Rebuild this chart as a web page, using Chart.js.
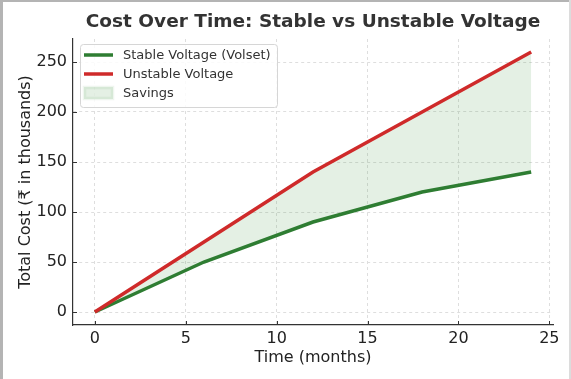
<!DOCTYPE html>
<html>
<head>
<meta charset="utf-8">
<script src="https://cdn.jsdelivr.net/npm/chart.js@4"></script>
<style>
  html, body { margin: 0; padding: 0; background: #fff; }
  #wrap { width: 571px; height: 379px; position: relative; }
</style>
</head>
<body>
<div id="wrap"><canvas id="costChart" width="571" height="379"></canvas></div>
<script>
// months and cumulative cost (thousands)
const months = [0, 6, 12, 18, 24];
const stable_cost = [0, 50, 90, 120, 140];
const unstable_cost = [0, 70, 140, 200, 260];
const x_ticks = [0, 5, 10, 15, 20, 25];
const y_ticks = [0, 50, 100, 150, 200, 250];

const GREEN = '#2e7d32';
const RED = '#cf2a2a';
const FILL = 'rgba(46, 139, 46, 0.13)';
const FONT = "'DejaVu Sans', sans-serif";

const toXY = (ys) => months.map((m, i) => ({x: m, y: ys[i]}));

// frame, title, inside ticks and legend box, matplotlib style
const decorations = {
  id: 'decorations',
  beforeDraw(chart) {
    const ctx = chart.ctx;
    ctx.save();
    ctx.fillStyle = '#fff';
    ctx.fillRect(0, 0, chart.width, chart.height);
    ctx.fillStyle = '#b4b4b4';
    ctx.fillRect(0, 0, 3, chart.height);
    ctx.fillRect(0, 0, chart.width, 2);
    ctx.fillStyle = '#dcdcdc';
    ctx.fillRect(chart.width - 2, 0, 2, chart.height);
    ctx.restore();
  },
  afterDraw(chart) {
    const ctx = chart.ctx;
    const area = chart.chartArea;
    const xs = chart.scales.x, ys = chart.scales.y;
    ctx.save();
    // title
    ctx.fillStyle = '#333';
    ctx.font = 'bold 18.5px ' + FONT;
    ctx.textAlign = 'center';
    ctx.textBaseline = 'middle';
    ctx.fillText('Cost Over Time: Stable vs Unstable Voltage', (area.left + area.right) / 2, 22);

    // inward ticks
    ctx.strokeStyle = '#333';
    ctx.lineWidth = 1;
    ctx.beginPath();
    x_ticks.forEach(v => {
      const px = Math.round(xs.getPixelForValue(v)) + 0.5;
      ctx.moveTo(px, area.bottom);
      ctx.lineTo(px, area.bottom - 4);
    });
    y_ticks.forEach(v => {
      const py = Math.round(ys.getPixelForValue(v)) + 0.5;
      ctx.moveTo(area.left, py);
      ctx.lineTo(area.left + 4, py);
    });
    ctx.stroke();

    // legend
    const lx = 80, ly = 44, lw = 197, lh = 63;
    ctx.fillStyle = 'rgba(255,255,255,0.85)';
    ctx.strokeStyle = '#d6d6d6';
    ctx.beginPath();
    ctx.roundRect(lx + 0.5, ly + 0.5, lw, lh, 3);
    ctx.fill();
    ctx.stroke();
    const rowY = [55, 74, 93];
    ctx.font = '13px ' + FONT;
    ctx.textAlign = 'left';
    ctx.textBaseline = 'middle';
    chart.data.datasets.forEach((d, i) => {
      const y = rowY[i];
      if (d.legendPatch) {
        ctx.fillStyle = d.backgroundColor;
        ctx.fillRect(84, y - 6, 29, 12);
        ctx.strokeStyle = 'rgba(46,139,46,0.08)';
        ctx.strokeRect(84.5, y - 5.5, 28, 11);
      } else {
        ctx.strokeStyle = d.borderColor;
        ctx.lineWidth = 3.5;
        ctx.beginPath();
        ctx.moveTo(84, y);
        ctx.lineTo(113, y);
        ctx.stroke();
      }
      ctx.fillStyle = '#333';
      ctx.fillText(d.label, 123, y + 1);
    });
    ctx.restore();
  }
};

const data = {
  datasets: [{
    label: 'Stable Voltage (Volset)',
    data: toXY(stable_cost),
    borderColor: GREEN,
    borderWidth: 3.5,
    pointRadius: 0,
    fill: false,
    order: 1
  }, {
    label: 'Unstable Voltage',
    data: toXY(unstable_cost),
    borderColor: RED,
    borderWidth: 3.5,
    pointRadius: 0,
    fill: false,
    order: 0
  }, {
    label: 'Savings',
    data: toXY(unstable_cost),
    borderWidth: 0,
    borderColor: 'rgba(0,0,0,0)',
    backgroundColor: FILL,
    pointRadius: 0,
    fill: 0,
    legendPatch: true,
    order: 2
  }]
};

const config = {
  type: 'line',
  data: data,
  options: {
    responsive: false,
    animation: false,
    layout: { padding: { top: 39, right: 18, left: 0, bottom: 0 } },
    plugins: {
      legend: { display: false },
      title: { display: false },
      tooltip: { enabled: false }
    },
    scales: {
      x: {
        type: 'linear',
        min: -1.2,
        max: 25.2,
        afterBuildTicks: (axis) => { axis.ticks = x_ticks.map(v => ({value: v})); },
        afterFit: (axis) => { axis.height = 54; },
        grid: { color: '#dedede', drawTicks: false, lineWidth: 1 },
        border: { display: true, color: '#333', width: 1.2, dash: [3, 3] },
        ticks: { color: '#222', font: { family: FONT, size: 16 }, padding: 4, maxRotation: 0 },
        title: { display: true, text: 'Time (months)', color: '#222', font: { family: FONT, size: 16 }, padding: { top: 0, bottom: 12 } }
      },
      y: {
        type: 'linear',
        min: -13,
        max: 273,
        afterBuildTicks: (axis) => { axis.ticks = y_ticks.map(v => ({value: v})); },
        afterFit: (axis) => { axis.width = 73; },
        grid: { color: '#dedede', drawTicks: false, lineWidth: 1 },
        border: { display: true, color: '#333', width: 1.2, dash: [3, 3] },
        ticks: { color: '#222', font: { family: FONT, size: 16 }, padding: 6 },
        title: { display: true, text: 'Total Cost (₹ in thousands)', color: '#222', font: { family: FONT, size: 16 }, padding: { top: 16, bottom: 0 } }
      }
    }
  },
  plugins: [decorations]
};

const cost_chart = new Chart(document.getElementById('costChart'), config);
</script>
</body>
</html>
